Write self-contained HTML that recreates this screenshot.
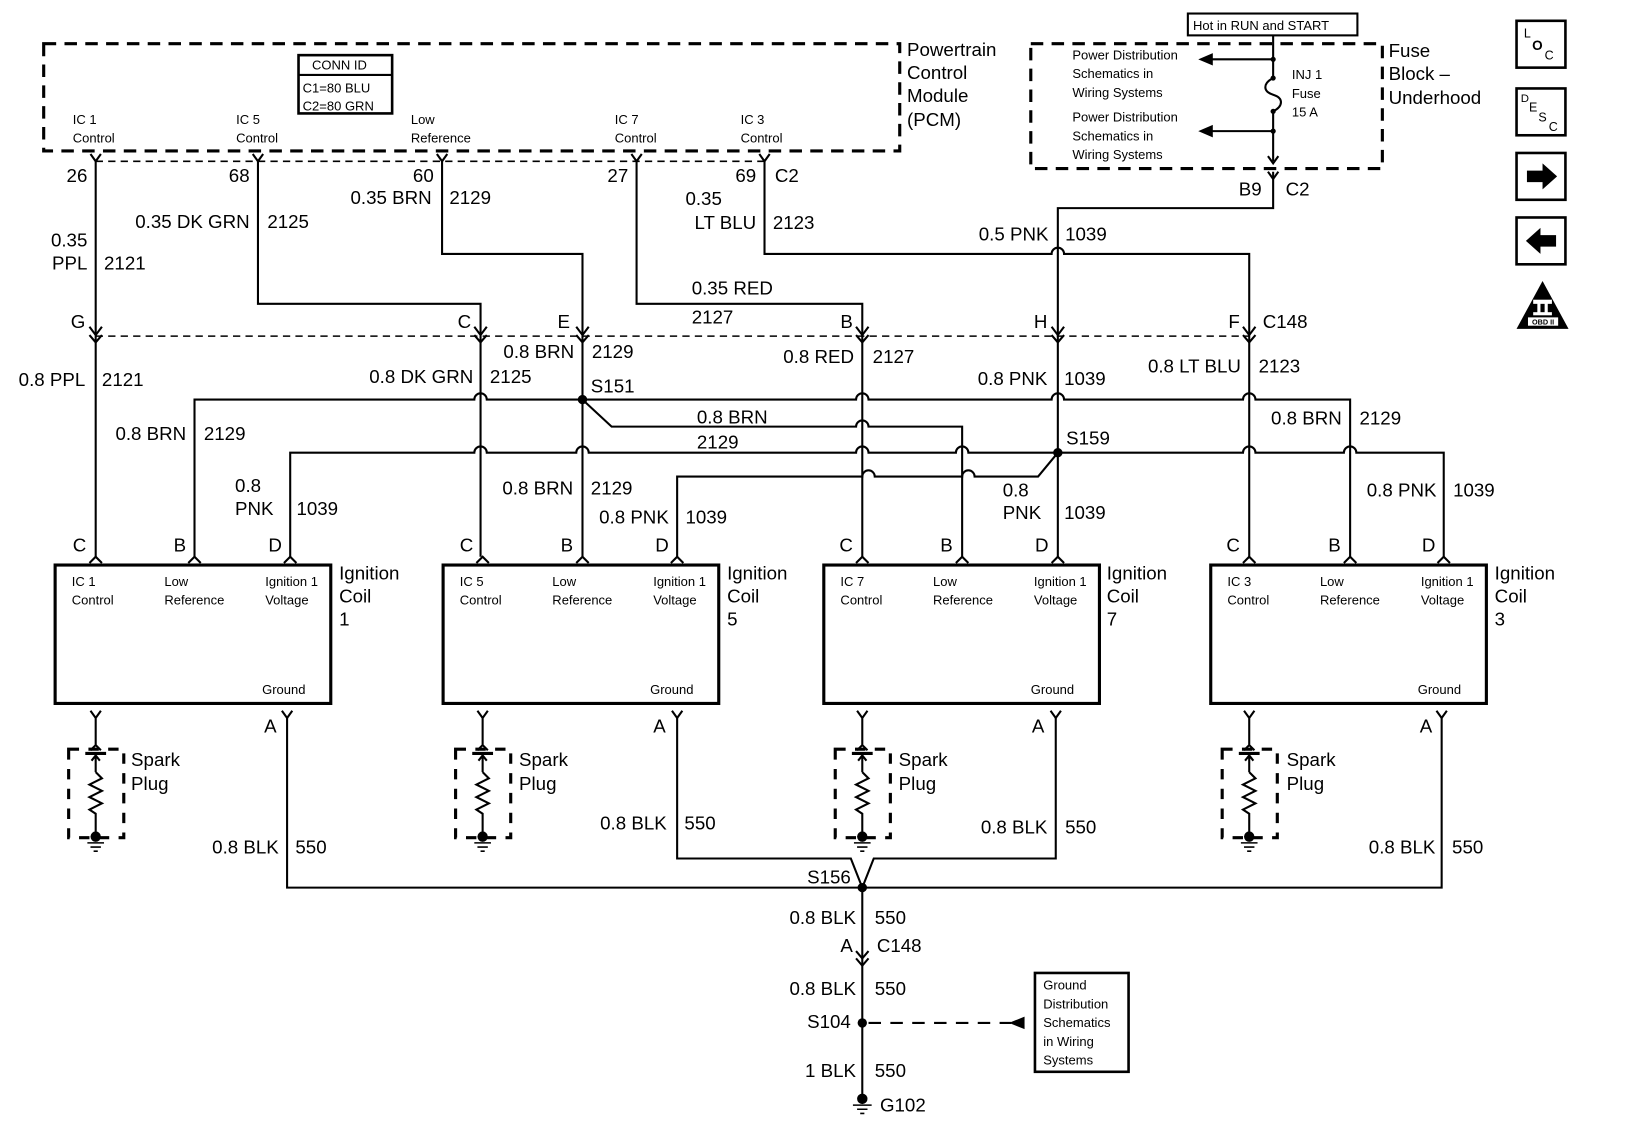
<!DOCTYPE html>
<html><head><meta charset="utf-8"><style>
html,body{margin:0;padding:0;background:#fff;}
svg{display:block;}
text{font-family:"Liberation Sans",Arial,sans-serif;fill:#000;}
.l{font-size:18px;}
.s{font-size:12.5px;}
.e{text-anchor:end;}
</style></head><body>
<svg id="d" width="1632" height="1128" viewBox="0 0 1569 1084" preserveAspectRatio="none" xmlns="http://www.w3.org/2000/svg">
<rect x="0" y="0" width="1569" height="1084" fill="#fff"/>
<g id="w" fill="none" stroke="#000" stroke-width="2"></g>
<g fill="none" stroke="#000">
<rect x="42" y="42" width="823" height="103" stroke-width="3" stroke-dasharray="12,8"/>
<line x1="92" y1="155" x2="737" y2="155" stroke-width="1.5" stroke-dasharray="7,5"/>
<line x1="92" y1="323" x2="1201" y2="323" stroke-width="1.5" stroke-dasharray="7,5"/>
<rect x="287" y="53" width="90" height="56" stroke-width="2.5"/>
<line x1="287" y1="72" x2="377" y2="72" stroke-width="2"/>
<rect x="991" y="42" width="338" height="120" stroke-width="3" stroke-dasharray="12,8"/>
<rect x="1142" y="13" width="163" height="21" stroke-width="2"/>
<rect x="53" y="543" width="265" height="133" stroke-width="3"/>
<rect x="426" y="543" width="265" height="133" stroke-width="3"/>
<rect x="792" y="543" width="265" height="133" stroke-width="3"/>
<rect x="1164" y="543" width="265" height="133" stroke-width="3"/>
<rect x="995" y="935" width="90" height="95" stroke-width="2.5"/>
<rect x="1458" y="20" width="47" height="45" stroke-width="2.5"/>
<rect x="1458" y="85" width="47" height="45" stroke-width="2.5"/>
<rect x="1458" y="147" width="47" height="45" stroke-width="2.5"/>
<rect x="1458" y="209" width="47" height="45" stroke-width="2.5"/>
<rect x="66" y="720" width="53" height="85" stroke-width="3" stroke-dasharray="10,9"/>
<rect x="438" y="720" width="53" height="85" stroke-width="3" stroke-dasharray="10,9"/>
<rect x="803" y="720" width="53" height="85" stroke-width="3" stroke-dasharray="10,9"/>
<rect x="1175" y="720" width="53" height="85" stroke-width="3" stroke-dasharray="10,9"/>
</g>
<polygon points="1468,164 1483,164 1483,157 1497,169.5 1483,182 1483,175 1468,175" fill="#000"/>
<polygon points="1496,226 1481,226 1481,219 1467,231.5 1481,244 1481,237 1496,237" fill="#000"/>
<polygon points="1483,270 1458,316 1508,316" fill="#000"/>
<rect x="1474" y="288" width="18" height="4" fill="#fff"/><rect x="1478" y="291" width="3" height="10" fill="#fff"/><rect x="1485" y="291" width="3" height="10" fill="#fff"/><rect x="1474" y="300" width="18" height="3" fill="#fff"/>
<rect x="1469" y="305" width="29" height="8" fill="#fff"/>
<text x="1483.5" y="312" style="font-size:7px;font-weight:bold" text-anchor="middle">OBD II</text>
<text x="1465" y="36" style="font-size:12px">L</text><text x="1473" y="48" style="font-size:13px;font-weight:bold">O</text><text x="1485" y="57" style="font-size:12px">C</text>
<text x="1462" y="98" style="font-size:11px">D</text><text x="1470" y="107" style="font-size:12px">E</text><text x="1479" y="117" style="font-size:12px">S</text><text x="1489" y="126" style="font-size:12px">C</text>

<text class="s" x="300" y="67">CONN ID</text>
<text class="s" x="291" y="89">C1=80 BLU</text>
<text class="s" x="291" y="106">C2=80 GRN</text>
<text class="s" x="70" y="119">IC 1</text><text class="s" x="70" y="137">Control</text>
<text class="s" x="227" y="119">IC 5</text><text class="s" x="227" y="137">Control</text>
<text class="s" x="395" y="119">Low</text><text class="s" x="395" y="137">Reference</text>
<text class="s" x="591" y="119">IC 7</text><text class="s" x="591" y="137">Control</text>
<text class="s" x="712" y="119">IC 3</text><text class="s" x="712" y="137">Control</text>
<g class="l"><text x="872" y="54">Powertrain</text><text x="872" y="76">Control</text><text x="872" y="98">Module</text><text x="872" y="121">(PCM)</text>
<text x="1335" y="55">Fuse</text><text x="1335" y="77">Block –</text><text x="1335" y="100">Underhood</text></g>
<text class="s" x="1147" y="29">Hot in RUN and START</text>
<text class="s" x="1031" y="57">Power Distribution</text><text class="s" x="1031" y="75">Schematics in</text><text class="s" x="1031" y="93">Wiring Systems</text>
<text class="s" x="1031" y="117">Power Distribution</text><text class="s" x="1031" y="135">Schematics in</text><text class="s" x="1031" y="153">Wiring Systems</text>
<text class="s" x="1242" y="76">INJ 1</text><text class="s" x="1242" y="94">Fuse</text><text class="s" x="1242" y="112">15 A</text>

<g class="l">
<text class="e" x="84" y="175">26</text><text class="e" x="240" y="175">68</text><text class="e" x="417" y="175">60</text><text class="e" x="604" y="175">27</text><text class="e" x="727" y="175">69</text><text x="745" y="175">C2</text>
<text class="e" x="240" y="219">0.35 DK GRN</text><text x="257" y="219">2125</text>
<text class="e" x="415" y="196">0.35 BRN</text><text x="432" y="196">2129</text>
<text class="e" x="84" y="237">0.35</text><text class="e" x="84" y="259">PPL</text><text x="100" y="259">2121</text>
<text x="659" y="197">0.35</text><text class="e" x="727" y="220">LT BLU</text><text x="743" y="220">2123</text>
<text class="e" x="1008" y="231">0.5 PNK</text><text x="1024" y="231">1039</text>
<text x="665" y="283">0.35 RED</text><text x="665" y="311">2127</text>
<text class="e" x="82" y="315">G</text><text class="e" x="453" y="315">C</text><text class="e" x="548" y="315">E</text><text class="e" x="820" y="315">B</text><text class="e" x="1007" y="315">H</text><text class="e" x="1192" y="315">F</text><text x="1214" y="315">C148</text>
<text class="e" x="82" y="371">0.8 PPL</text><text x="98" y="371">2121</text>
<text class="e" x="455" y="368">0.8 DK GRN</text><text x="471" y="368">2125</text>
<text class="e" x="552" y="344">0.8 BRN</text><text x="569" y="344">2129</text>
<text x="568" y="377">S151</text>
<text class="e" x="821" y="349">0.8 RED</text><text x="839" y="349">2127</text>
<text class="e" x="1007" y="370">0.8 PNK</text><text x="1023" y="370">1039</text>
<text class="e" x="1193" y="358">0.8 LT BLU</text><text x="1210" y="358">2123</text>
<text x="670" y="407">0.8 BRN</text><text x="670" y="431">2129</text>
<text x="1025" y="427">S159</text>
<text class="e" x="179" y="423">0.8 BRN</text><text x="196" y="423">2129</text>
<text class="e" x="1290" y="408">0.8 BRN</text><text x="1307" y="408">2129</text>
<text x="226" y="473">0.8</text><text x="226" y="495">PNK</text><text x="285" y="495">1039</text>
<text class="e" x="551" y="475">0.8 BRN</text><text x="568" y="475">2129</text>
<text class="e" x="643" y="503">0.8 PNK</text><text x="659" y="503">1039</text>
<text x="964" y="477">0.8</text><text x="964" y="499">PNK</text><text x="1023" y="499">1039</text>
<text class="e" x="1381" y="477">0.8 PNK</text><text x="1397" y="477">1039</text>
<text class="e" x="83" y="530">C</text><text class="e" x="179" y="530">B</text><text class="e" x="271" y="530">D</text>
<text class="e" x="455" y="530">C</text><text class="e" x="551" y="530">B</text><text class="e" x="643" y="530">D</text>
<text class="e" x="820" y="530">C</text><text class="e" x="916" y="530">B</text><text class="e" x="1008" y="530">D</text>
<text class="e" x="1192" y="530">C</text><text class="e" x="1289" y="530">B</text><text class="e" x="1380" y="530">D</text>
<text class="e" x="266" y="704">A</text><text class="e" x="640" y="704">A</text><text class="e" x="1004" y="704">A</text><text class="e" x="1377" y="704">A</text>
<text class="e" x="268" y="820">0.8 BLK</text><text x="284" y="820">550</text>
<text class="e" x="641" y="797">0.8 BLK</text><text x="658" y="797">550</text>
<text class="e" x="1007" y="801">0.8 BLK</text><text x="1024" y="801">550</text>
<text class="e" x="1380" y="820">0.8 BLK</text><text x="1396" y="820">550</text>
<text class="e" x="818" y="849">S156</text>
<text class="e" x="823" y="888">0.8 BLK</text><text x="841" y="888">550</text>
<text class="e" x="820" y="915">A</text><text x="843" y="915">C148</text>
<text class="e" x="823" y="956">0.8 BLK</text><text x="841" y="956">550</text>
<text class="e" x="818" y="988">S104</text>
<text class="e" x="823" y="1035">1 BLK</text><text x="841" y="1035">550</text>
<text x="846" y="1068">G102</text>
<text class="e" x="1213" y="188">B9</text><text x="1236" y="188">C2</text>
<text x="326" y="557">Ignition</text><text x="326" y="579">Coil</text><text x="326" y="601">1</text>
<text x="699" y="557">Ignition</text><text x="699" y="579">Coil</text><text x="699" y="601">5</text>
<text x="1064" y="557">Ignition</text><text x="1064" y="579">Coil</text><text x="1064" y="601">7</text>
<text x="1437" y="557">Ignition</text><text x="1437" y="579">Coil</text><text x="1437" y="601">3</text>
<text x="126" y="736">Spark</text><text x="126" y="759">Plug</text>
<text x="499" y="736">Spark</text><text x="499" y="759">Plug</text>
<text x="864" y="736">Spark</text><text x="864" y="759">Plug</text>
<text x="1237" y="736">Spark</text><text x="1237" y="759">Plug</text>
</g>
<g class="s">
<text x="69" y="563">IC 1</text><text x="69" y="581">Control</text><text x="158" y="563">Low</text><text x="158" y="581">Reference</text><text x="255" y="563">Ignition 1</text><text x="255" y="581">Voltage</text><text x="252" y="667">Ground</text>
<text x="442" y="563">IC 5</text><text x="442" y="581">Control</text><text x="531" y="563">Low</text><text x="531" y="581">Reference</text><text x="628" y="563">Ignition 1</text><text x="628" y="581">Voltage</text><text x="625" y="667">Ground</text>
<text x="808" y="563">IC 7</text><text x="808" y="581">Control</text><text x="897" y="563">Low</text><text x="897" y="581">Reference</text><text x="994" y="563">Ignition 1</text><text x="994" y="581">Voltage</text><text x="991" y="667">Ground</text>
<text x="1180" y="563">IC 3</text><text x="1180" y="581">Control</text><text x="1269" y="563">Low</text><text x="1269" y="581">Reference</text><text x="1366" y="563">Ignition 1</text><text x="1366" y="581">Voltage</text><text x="1363" y="667">Ground</text>
<text x="1003" y="951">Ground</text><text x="1003" y="969">Distribution</text><text x="1003" y="987">Schematics</text><text x="1003" y="1005">in Wiring</text><text x="1003" y="1023">Systems</text>
</g>
<g id="f" fill="#000"></g>
</svg>
<script>
var NS='http://www.w3.org/2000/svg';
var W=document.getElementById('w'),F=document.getElementById('f');
function P(g,d,sw){var p=document.createElementNS(NS,'path');p.setAttribute('d',d);if(sw)p.setAttribute('stroke-width',sw);g.appendChild(p);return p;}
function C(x,y,r){var c=document.createElementNS(NS,'circle');c.setAttribute('cx',x);c.setAttribute('cy',y);c.setAttribute('r',r);F.appendChild(c);}
function H(y,x2,hops){var d='';hops.sort(function(a,b){return a-b});hops.forEach(function(h){d+=' L'+(h-6)+' '+y+' A6 6 0 0 1 '+(h+6)+' '+y;});d+=' L'+x2+' '+y;return d;}
P(W,'M92 155 V535');
P(W,'M248 155 V292 H462 V535');
P(W,'M425 155 V244 H560 V535');
P(W,'M612 155 V292 H829 V535');
P(W,'M735 155 V244'+H(244,1201,[1017])+' V535');
P(W,'M1224 34 V75 M1224 107 V155 M1224 165 V200 H1017 V535');
P(W,'M1224 75 C1214 80 1214 88 1224 91 C1234 94 1234 102 1224 107');
P(W,'M1224 57 H1160 M1224 126 H1160');
P(F,'M1152 57 L1166 51 L1166 63 Z');P(F,'M1152 126 L1166 120 L1166 132 Z');
C(1224,57,2.5);C(1224,75,2.5);C(1224,107,2.5);C(1224,126,2.5);
P(W,'M1219 150 L1224 157 L1229 150 M1219 165 L1224 172 L1229 165');
P(W,'M187 535 V384'+H(384,1298,[462,829,1017,1201])+' V535');
P(W,'M560 384 L588 410'+H(410,925,[829])+' V535');
P(W,'M279 535 V435'+H(435,1388,[462,560,829,925,1201,1298])+' V535');
P(W,'M1017 435 L998 458 L937 458 A6 6 0 0 0 925 458 L841 458 A6 6 0 0 0 829 458 L651 458 V535');
C(560,384,4.5);C(1017,435,4.5);
[92,248,425,612,735].forEach(function(x){P(W,'M'+(x-5)+' 148 L'+x+' 155 L'+(x+5)+' 148');});
[92,462,560,829,1017,1201].forEach(function(x){P(W,'M'+(x-6)+' 314 L'+x+' 322 L'+(x+6)+' 314 M'+(x-6)+' 322 L'+x+' 329 L'+(x+6)+' 322');});
[92,187,279,464,560,651,829,925,1017,1201,1298,1388].forEach(function(x){P(W,'M'+(x-6)+' 541 L'+x+' 535 L'+(x+6)+' 541');});
[[92,276],[464,651],[829,1015],[1201,1386]].forEach(function(a){
 var x=a[0],g=a[1];
 P(W,'M'+(x-5)+' 683 L'+x+' 690 L'+(x+5)+' 683 M'+x+' 690 V716 M'+(x-5)+' 721 L'+x+' 716 L'+(x+5)+' 721');
 P(W,'M'+(x-10)+' 724 H'+(x+10),3);
 P(W,'M'+x+' 726 V742 M'+(x-4)+' 731 L'+x+' 726 L'+(x+4)+' 731 M'+x+' 742 l6 6 l-12 6 l12 6 l-12 6 l12 6 l-12 6 l6 4 V800');
 C(x,804,5);P(W,'M'+(x-8)+' 810 H'+(x+8)+' M'+(x-5)+' 814 H'+(x+5)+' M'+(x-2)+' 818 H'+(x+2),1.5);
 P(W,'M'+(g-5)+' 683 L'+g+' 690 L'+(g+5)+' 683');
});
P(W,'M276 690 V853 H1386 V690');
P(W,'M651 690 V825 H818 L829 853 L840 825 H1015 V690');
P(W,'M829 853 V1052');
C(829,853,4.5);
P(W,'M823 914 L829 921 L835 914 M823 921 L829 928 L835 921');
C(829,983,4.5);
var dl=P(W,'M835 983 H972');dl.setAttribute('stroke-dasharray','12,9');
P(F,'M970 983 L985 977 L985 989 Z');
C(829,1056,5);P(W,'M820 1062 H838 M824 1066 H834 M827 1070 H831',1.5);
</script>
</body></html>
